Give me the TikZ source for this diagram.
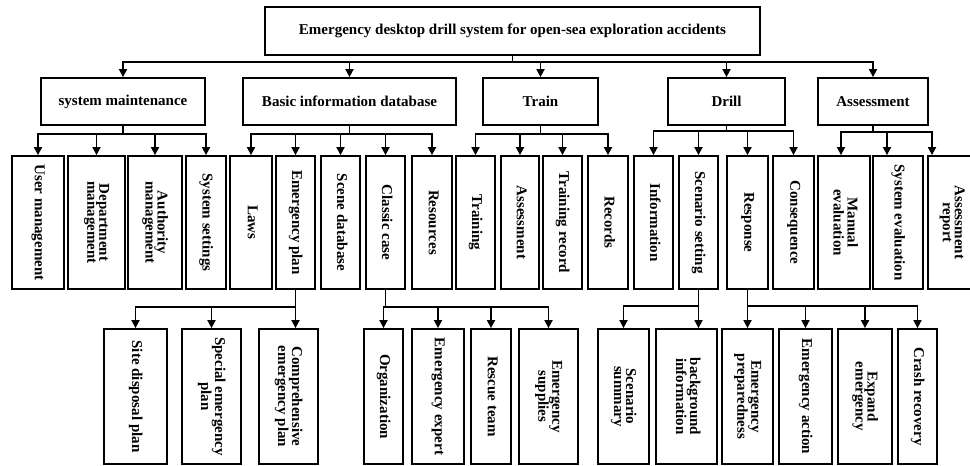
\documentclass[tikz,border=0pt]{standalone}
\usepackage{fontspec}
\setmainfont{Liberation Serif}
\usepackage{graphicx}
\usetikzlibrary{arrows.meta}
\newcommand{\vtext}[1]{\rotatebox{-90}{\begin{tabular}{@{}c@{}}#1\end{tabular}}}
\begin{document}
\begin{tikzpicture}[x=1pt,y=-1pt,
  font=\fontsize{15}{12}\selectfont\bfseries,
  box/.style={draw,line width=1.8pt,inner sep=0pt,align=center},
  lvone/.style={box,minimum height=47pt},
  lvtwo/.style={box,minimum height=133pt},
  lvthree/.style={box,minimum height=135pt},
  ln/.style={line width=1.7pt,line join=miter},
  arr/.style={ln,-{Triangle[length=8pt,width=8pt]}}]
\clip (0,0) rectangle (970,466);
% bus levels
\coordinate (b0) at (0,62);
\coordinate (b1) at (0,134);
\coordinate (b1d) at (0,131);
\coordinate (b1a) at (0,132);
\coordinate (b2) at (0,307);
\coordinate (b2d) at (0,306);
% root
\node[box,minimum width=495pt,minimum height=48pt] (root) at (512.5,31) {Emergency desktop drill system for open-sea exploration accidents};
% level 1
\node[lvone,minimum width=164pt] (sm) at (123,101.5) {system maintenance};
\node[lvone,minimum width=213pt] (bid) at (349.5,101.5) {Basic information database};
\node[lvone,minimum width=115pt] (tr) at (540.5,101.5) {Train};
\node[lvone,minimum width=117pt] (dr) at (726.5,101.5) {Drill};
\node[lvone,minimum width=110pt] (as) at (873,101.5) {Assessment};
% level 2
\node[lvtwo,minimum width=52pt] (um) at (38,222.5) {\vtext{User management}};
\node[lvtwo,minimum width=57pt] (dm) at (96.5,222.5) {\vtext{Department\\management}};
\node[lvtwo,minimum width=54pt] (am) at (155,222.5) {\vtext{Authority\\management}};
\node[lvtwo,minimum width=40pt] (ss) at (206,222.5) {\vtext{System settings}};
\node[lvtwo,minimum width=42pt] (laws) at (251,222.5) {\vtext{Laws}};
\node[lvtwo,minimum width=39pt] (ep) at (295.5,222.5) {\vtext{Emergency plan}};
\node[lvtwo,minimum width=39pt] (sd) at (340.5,222.5) {\vtext{Scene database}};
\node[lvtwo,minimum width=39pt] (cc) at (385.5,222.5) {\vtext{Classic case}};
\node[lvtwo,minimum width=40pt] (res) at (432,222.5) {\vtext{Resources}};
\node[lvtwo,minimum width=39pt] (trn) at (475.5,222.5) {\vtext{Training}};
\node[lvtwo,minimum width=38pt] (asm) at (520,222.5) {\vtext{Assessment}};
\node[lvtwo,minimum width=39pt] (trec) at (562.5,222.5) {\vtext{Training record}};
\node[lvtwo,minimum width=40pt] (rec) at (608,222.5) {\vtext{Records}};
\node[lvtwo,minimum width=39pt] (inf) at (653.5,222.5) {\vtext{Information}};
\node[lvtwo,minimum width=39pt] (scs) at (698.5,222.5) {\vtext{Scenario setting}};
\node[lvtwo,minimum width=41pt] (rsp) at (747.5,222.5) {\vtext{Response}};
\node[lvtwo,minimum width=41pt] (csq) at (793.5,222.5) {\vtext{Consequence}};
\node[lvtwo,minimum width=52pt] (me) at (844,222.5) {\vtext{Manual\\evaluation}};
\node[lvtwo,minimum width=50pt] (se) at (898,222.5) {\vtext{System evaluation}};
\node[lvtwo,minimum width=48pt] (ar) at (952,222.5) {\vtext{Assessment\\report}};
% level 3
\node[lvthree,minimum width=63pt] (sdp) at (135.5,396.5) {\vtext{Site disposal plan}};
\node[lvthree,minimum width=59pt] (sep) at (211.5,396.5) {\vtext{Special emergency\\plan}};
\node[lvthree,minimum width=59pt] (cep) at (288.5,396.5) {\vtext{Comprehensive\\emergency plan}};
\node[lvthree,minimum width=39pt] (org) at (383.5,396.5) {\vtext{Organization}};
\node[lvthree,minimum width=52pt] (ee) at (438,396.5) {\vtext{Emergency expert}};
\node[lvthree,minimum width=40pt] (rt) at (491,396.5) {\vtext{Rescue team}};
\node[lvthree,minimum width=59pt] (es) at (548.5,396.5) {\vtext{Emergency\\supplies}};
\node[lvthree,minimum width=51pt] (ssum) at (623.5,396.5) {\vtext{Scenario\\summary}};
\node[lvthree,minimum width=61pt] (bgi) at (686.5,396.5) {\vtext{background\\information}};
\node[lvthree,minimum width=51pt] (epr) at (747.5,396.5) {\vtext{Emergency\\preparedness}};
\node[lvthree,minimum width=53pt] (ea) at (805.5,396.5) {\vtext{Emergency action}};
\node[lvthree,minimum width=54pt] (expe) at (865,396.5) {\vtext{Expand\\emergency}};
\node[lvthree,minimum width=39pt] (crr) at (917.5,396.5) {\vtext{Crash recovery}};
% connectors: root
\foreach \n in {sm,bid,tr,dr,as}
  \draw[arr] (root.south) -- (root.south |- b0) -| (\n.north);
% system maintenance
\foreach \n in {um,dm,am,ss}
  \draw[arr] (sm.south) -- (sm.south |- b1) -| (\n.north);
% basic information database
\foreach \n in {laws,ep,sd,cc,res}
  \draw[arr] (bid.south) -- (bid.south |- b1) -| (\n.north);
% train
\foreach \n in {trn,asm,trec,rec}
  \draw[arr] (tr.south) -- (tr.south |- b1) -| (\n.north);
% drill
\foreach \n in {inf,scs,rsp,csq}
  \draw[arr] (dr.south) -- (dr.south |- b1d) -| (\n.north);
% assessment
\draw[arr] (as.south) -- (as.south |- b1a) -| ([xshift=-3pt]me.north);
\draw[arr] (as.south) -- (as.south |- b1a) -| ([xshift=-11pt]se.north);
\draw[arr] (as.south) -- (as.south |- b1a) -| ([xshift=-20pt]ar.north);
% emergency plan
\foreach \n in {sdp,sep}
  \draw[arr] (ep.south) -- (ep.south |- b2) -| (\n.north);
\draw[arr] (ep.south) -- (ep.south |- cep.north);
% classic case
\foreach \n in {org,ee,rt,es}
  \draw[arr] (cc.south) -- (cc.south |- b2) -| (\n.north);
% scenario setting
\draw[arr] (scs.south) -- (scs.south |- b2d) -| (ssum.north);
\draw[arr] (scs.south) -- (scs.south |- bgi.north);
% response
\foreach \n in {epr,ea,expe,crr}
  \draw[arr] (rsp.south) -- (rsp.south |- b2d) -| (\n.north);
\end{tikzpicture}
\end{document}
